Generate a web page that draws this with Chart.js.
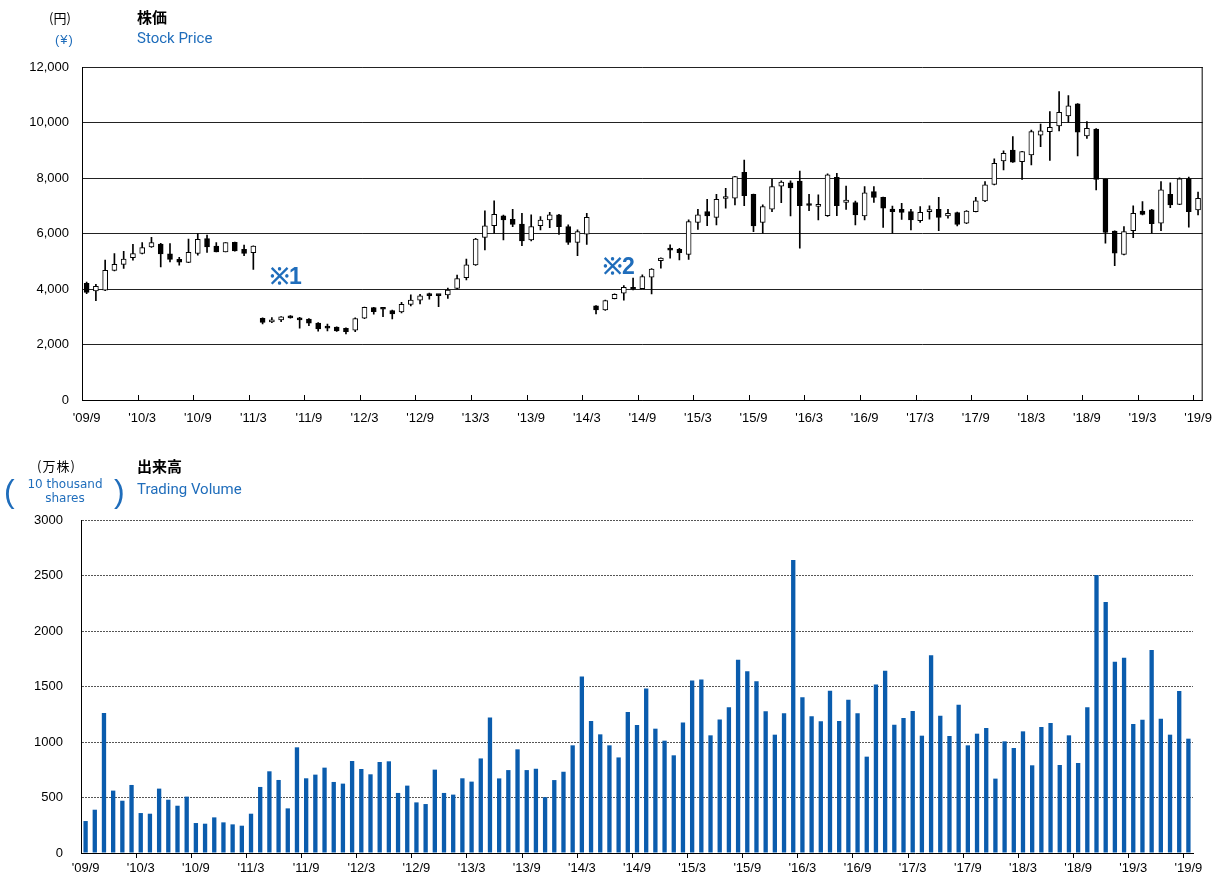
<!DOCTYPE html>
<html>
<head>
<meta charset="utf-8">
<script src="https://cdn.jsdelivr.net/npm/chart.js@4.4.1/dist/chart.umd.min.js"></script>
<style>
  body { margin: 0; background: #fff; }
  #page { position: relative; width: 1216px; height: 881px; overflow: hidden; font-family: "Liberation Sans", Arial, sans-serif; }
  canvas { position: absolute; left: 0; }
  .t { position: absolute; white-space: nowrap; }
  .jp { font-family: "Noto Sans CJK JP", sans-serif; }
  .blue { color: #1f6dbb; }
  .en { font-family: Roboto, "Liberation Sans", sans-serif; font-size: 15px; }
</style>
</head>
<body>
<div id="page">
  <canvas id="price" width="1223" height="430" style="top:0"></canvas>
  <canvas id="volume" width="1216" height="451" style="top:430px"></canvas>

  <div class="t jp" style="left:49px;top:8px;font-size:13px">(円)</div>
  <div class="t blue" style="left:55px;top:32px;font-size:13px;letter-spacing:1px">(¥)</div>
  <div class="t jp" style="left:137px;top:6px;font-size:15px;font-weight:bold">株価</div>
  <div class="t blue en" style="left:137px;top:29px">Stock Price</div>

  <div class="t jp" style="left:37px;top:456px;font-size:13px;letter-spacing:1px">(万株)</div>
  <div class="t blue" style="left:4px;top:473px;font-size:32px;line-height:36px">(</div>
  <div class="t blue" style="left:114px;top:473px;font-size:32px;line-height:36px">)</div>
  <div class="t blue" style="left:17px;top:477px;width:96px;text-align:center;font-family:'DejaVu Sans',sans-serif;font-size:12px;line-height:14px">10 thousand<br>shares</div>
  <div class="t jp" style="left:137px;top:455px;font-size:15px;font-weight:bold">出来高</div>
  <div class="t blue en" style="left:137px;top:480px">Trading Volume</div>

  <div class="t blue" style="left:270px;top:259px;font-size:23px;font-weight:bold">※1</div>
  <div class="t blue" style="left:603px;top:249px;font-size:23px;font-weight:bold">※2</div>
</div>

<script>
// monthly data, '09/9 .. '19/9
const startYear = 2009;
const startMonth = 9;
const monthCount = 121;

const tickLabels = ["'09/9", "'10/3", "'10/9", "'11/3", "'11/9", "'12/3", "'12/9", "'13/3", "'13/9", "'14/3", "'14/9",
  "'15/3", "'15/9", "'16/3", "'16/9", "'17/3", "'17/9", "'18/3", "'18/9", "'19/3", "'19/9"];

const open = [4200, 3930, 3960, 4670, 4890, 5130, 5280, 5520, 5620, 5270,
  5070, 4960, 5280, 5820, 5550, 5340, 5680, 5430, 5310, 2945,
  2810, 2890, 3030, 2950, 2920, 2770, 2600, 2630, 2580, 2520,
  2950, 3330, 3280, 3220, 3170, 3440, 3600, 3800, 3790, 3790,
  4020, 4410, 4870, 5860, 6280, 6640, 6510, 6340, 5770, 6280,
  6490, 6670, 6250, 5680, 5980, 3390, 3250, 3650, 3850, 4010,
  4010, 4430, 5020, 5470, 5430, 5250, 6400, 6790, 6580, 7260,
  7270, 8200, 7410, 6400, 6880, 7710, 7830, 7890, 7030, 6980,
  6640, 8020, 7120, 7110, 6630, 7510, 7300, 6880, 6870, 6790,
  6460, 6790, 6870, 6630, 6750, 6370, 6790, 7170, 7770, 8620,
  9010, 8590, 8830, 9540, 9670, 9880, 10240, 10670, 9520, 9760,
  7950, 6090, 5250, 6100, 6810, 6850, 6370, 7410, 7050, 7970,
  6850];

const high = [4250, 4170, 5040, 5280, 5360, 5610, 5670, 5860, 5650, 5640,
  5140, 5800, 6000, 5940, 5670, 5670, 5690, 5580, 5560, 2960,
  2970, 3010, 3040, 2980, 2930, 2790, 2740, 2640, 2600, 2960,
  3350, 3340, 3290, 3240, 3520, 3790, 3810, 3850, 3800, 4030,
  4500, 5080, 5830, 6820, 7180, 6660, 6870, 6730, 6670, 6610,
  6760, 6690, 6310, 6130, 6730, 3400, 3600, 3830, 4120, 4390,
  4510, 4740, 5120, 5590, 5470, 6490, 6870, 7230, 7410, 7630,
  8060, 8650, 7420, 7030, 7950, 7900, 7900, 8250, 7410, 7390,
  8150, 8170, 7710, 7170, 7690, 7690, 7310, 6990, 7090, 6870,
  6970, 7000, 7300, 6870, 6770, 6830, 7300, 7870, 8690, 8980,
  9490, 8960, 9730, 9940, 10390, 11110, 10970, 10680, 10030, 9780,
  7960, 6100, 6250, 7000, 7150, 6870, 7870, 7830, 8010, 8030,
  7490];

const low = [3830, 3580, 3940, 4650, 4740, 5040, 5260, 5500, 4800, 4980,
  4860, 4950, 5220, 5320, 5340, 5340, 5360, 5200, 4710, 2740,
  2790, 2820, 2950, 2590, 2680, 2480, 2490, 2470, 2380, 2460,
  2930, 3090, 3000, 2920, 3140, 3390, 3460, 3630, 3360, 3660,
  4000, 4330, 4850, 5410, 6010, 5770, 6250, 5560, 5730, 6130,
  6210, 5970, 5610, 5200, 5610, 3100, 3230, 3640, 3600, 3970,
  4000, 3820, 4750, 5110, 5050, 5070, 6150, 6280, 6310, 6910,
  7030, 7000, 6070, 6010, 6790, 7110, 6630, 5470, 6820, 6490,
  6620, 6640, 6870, 6310, 6490, 7120, 6220, 6010, 6510, 6130,
  6400, 6520, 6100, 6550, 6270, 6350, 6780, 7150, 7750, 8290,
  8560, 7950, 8470, 9130, 8630, 9700, 10010, 8800, 9430, 7570,
  5650, 4840, 5230, 5850, 6670, 6010, 6100, 6930, 7040, 6230,
  6670];

const close = [3880, 4100, 4670, 4890, 5080, 5280, 5490, 5670, 5260, 5070,
  4970, 5320, 5790, 5520, 5340, 5670, 5370, 5280, 5550, 2800,
  2890, 3000, 2960, 2890, 2770, 2560, 2590, 2490, 2460, 2930,
  3340, 3180, 3270, 3100, 3450, 3600, 3750, 3760, 3760, 3960,
  4380, 4870, 5800, 6280, 6690, 6490, 6330, 5730, 6250, 6480,
  6670, 6250, 5680, 6070, 6580, 3250, 3580, 3810, 4060, 3990,
  4450, 4720, 5110, 5400, 5310, 6430, 6670, 6630, 7230, 7300,
  8050, 7360, 6270, 6970, 7690, 7850, 7640, 7000, 7010, 7000,
  8110, 7000, 7200, 6670, 7470, 7300, 6910, 6790, 6760, 6490,
  6760, 6830, 6580, 6730, 6330, 6810, 7180, 7750, 8530, 8890,
  8570, 8950, 9670, 9700, 9830, 10370, 10600, 9650, 9790, 7950,
  6040, 5290, 6070, 6730, 6690, 6350, 7570, 7030, 7970, 6790,
  7270];

const volume = [288, 390, 1261, 562, 471, 613, 360, 354, 580, 480,
  426, 508, 270, 264, 321, 276, 258, 246, 354, 595,
  736, 658, 402, 952, 673, 706, 769, 640, 625, 829,
  757, 709, 820, 826, 541, 607, 456, 441, 751, 541,
  526, 673, 643, 852, 1220, 672, 747, 934, 747, 759,
  503, 657, 732, 970, 1590, 1190, 1069, 970, 861, 1271,
  1154, 1482, 1120, 1012, 880, 1175, 1554, 1563, 1060, 1202,
  1313, 1740, 1638, 1548, 1277, 1066, 1259, 2640, 1404, 1232,
  1187, 1462, 1190, 1381, 1258, 868, 1517, 1643, 1156, 1216,
  1279, 1057, 1781, 1237, 1054, 1336, 970, 1075, 1126, 670,
  1006, 946, 1096, 790, 1135, 1171, 793, 1060, 811, 1312,
  2505, 2261, 1724, 1760, 1162, 1201, 1829, 1210, 1066, 1459,
  1030];

const months = [];
for (let i = 0; i < monthCount; i++) {
  const m = (startMonth - 1 + i) % 12 + 1;
  const y = startYear + Math.floor((startMonth - 1 + i) / 12);
  months.push(String(y).slice(2) + '/' + m);
}

const tickFont = { family: "'Liberation Sans', Arial, sans-serif", size: 13 };
const xLabel = (v, i) => (i % 6 === 0 ? tickLabels[i / 6] : '');

// right frame line + inward tick marks for the price chart
const priceFrame = {
  id: 'priceFrame',
  afterDraw(chart) {
    const { ctx, chartArea: a, scales: { x } } = chart;
    const half = (a.right - a.left) / months.length / 2;
    ctx.save();
    ctx.strokeStyle = '#000';
    ctx.lineWidth = 1;
    ctx.beginPath();
    ctx.moveTo(a.right - 0.5, a.top);
    ctx.lineTo(a.right - 0.5, a.bottom);
    for (let i = 6; i < months.length; i += 6) {
      const px = Math.round(x.getPixelForValue(i) - half) + 0.5;
      ctx.moveTo(px, a.bottom);
      ctx.lineTo(px, a.bottom - 5);
    }
    ctx.stroke();
    ctx.restore();
  }
};

new Chart(document.getElementById('price'), {
  type: 'bar',
  data: {
    labels: months,
    datasets: [{
      label: 'wick',
      data: low.map((l, i) => [l, high[i]]),
      backgroundColor: '#000',
      barThickness: 1,
      grouped: false,
      order: 1
    }, {
      label: 'body',
      data: open.map((o, i) => [o, close[i]]),
      backgroundColor: c => (close[c.dataIndex] >= open[c.dataIndex] ? '#fff' : '#000'),
      borderColor: '#000',
      borderWidth: 1,
      borderSkipped: false,
      barThickness: 5,
      minBarLength: 2,
      grouped: false,
      order: 0
    }]
  },
  options: {
    responsive: false,
    animation: false,
    layout: { padding: { top: 67, right: 14, left: 0, bottom: 0 } },
    plugins: { legend: { display: false }, tooltip: { enabled: false } },
    scales: {
      x: {
        afterFit: s => { s.height = 30; },
        grid: { drawOnChartArea: false, drawTicks: false },
        border: { color: '#000', width: 1 },
        ticks: { autoSkip: false, maxRotation: 0, padding: 11, color: '#000', font: tickFont, callback: xLabel }
      },
      y: {
        min: 0,
        max: 12000,
        afterFit: s => { s.width = 82; },
        grid: { color: '#222', drawTicks: false },
        border: { color: '#000', width: 1 },
        ticks: {
          stepSize: 2000, padding: 13, color: '#000', font: tickFont,
          callback: v => v.toLocaleString('en-US')
        }
      }
    }
  },
  plugins: [priceFrame]
});

new Chart(document.getElementById('volume'), {
  type: 'bar',
  data: {
    labels: months,
    datasets: [{
      label: 'volume',
      data: volume,
      backgroundColor: '#0a5cad',
      categoryPercentage: 1,
      barPercentage: 0.47
    }]
  },
  options: {
    responsive: false,
    animation: false,
    layout: { padding: { top: 90, right: 23, left: 0, bottom: 0 } },
    plugins: { legend: { display: false }, tooltip: { enabled: false } },
    scales: {
      x: {
        afterFit: s => { s.height = 28; },
        grid: {
          offset: true,
          drawOnChartArea: false,
          tickLength: 5,
          tickColor: c => (c.index % 6 === 0 && c.index > 0 ? '#000' : 'rgba(0,0,0,0)')
        },
        border: { color: '#000', width: 1 },
        ticks: { autoSkip: false, maxRotation: 0, padding: 3, color: '#000', font: tickFont, callback: xLabel }
      },
      y: {
        min: 0,
        max: 3000,
        afterFit: s => { s.width = 81; },
        grid: { color: '#555', drawTicks: false },
        border: { color: '#000', width: 1, dash: [2, 1] },
        ticks: { stepSize: 500, padding: 18, color: '#000', font: tickFont, callback: v => String(v) }
      }
    }
  }
});
</script>
</body>
</html>
